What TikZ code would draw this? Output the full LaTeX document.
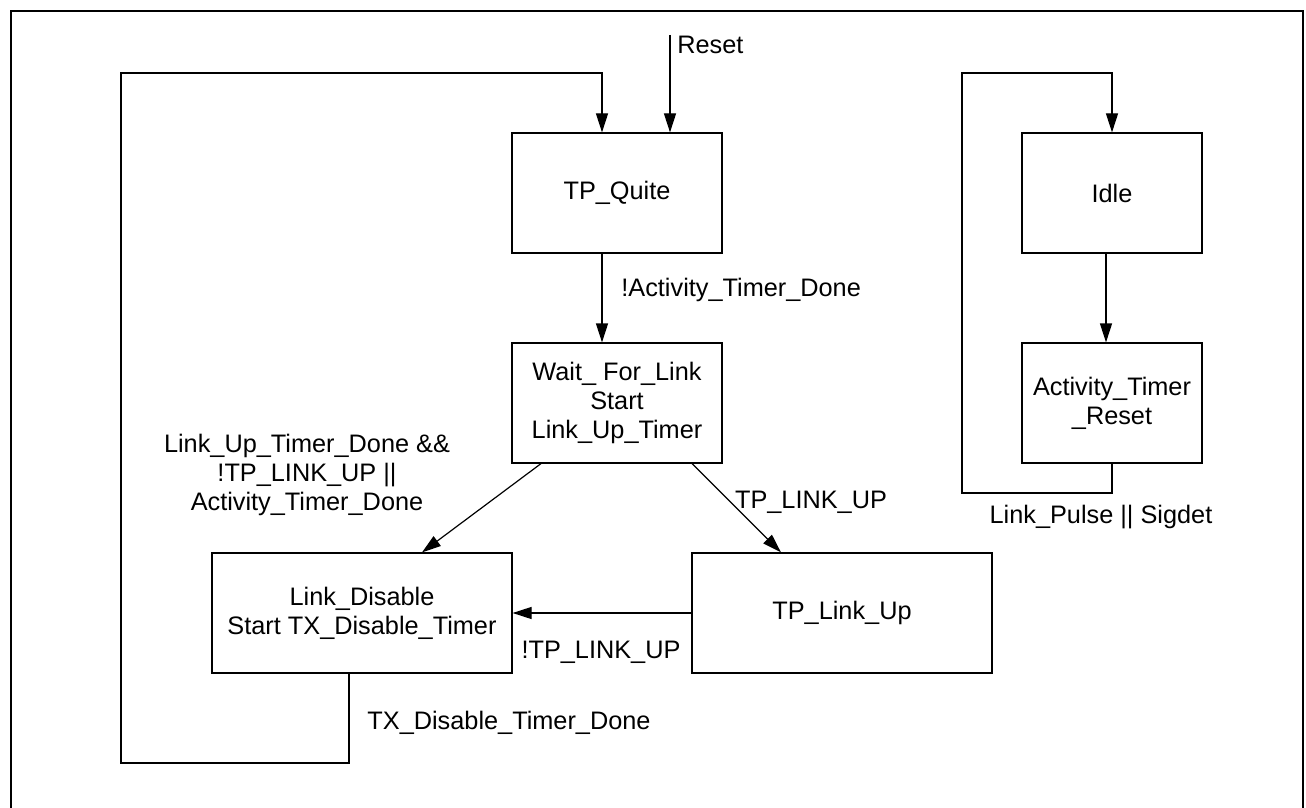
\documentclass[tikz,border=0pt]{standalone}
\usepackage{fontspec}
\setmainfont{Liberation Sans}
\usetikzlibrary{arrows.meta}

\newcommand{\lbl}{\fontsize{12.65}{14.6}\selectfont}

\begin{document}
\begin{tikzpicture}[x = 0.5pt, y = -0.5pt,
	estado/.style = {draw, black, line width = 0.6pt, inner sep = 0pt, align = center, font = \lbl},
	seta/.style = {black, line width = 0.6pt, -{Triangle[length = 9.5pt, width = 6pt]}},
	linha/.style = {black, line width = 0.6pt},
	rotulo/.style = {black, inner sep = 0pt, align = center, font = \lbl}]

	\useasboundingbox (0, 0) rectangle (1306, 808);

	%%% MOLDURA %%%

	\draw[black, line width = 1.1pt] (11, 808) -- (11, 11) -- (1303, 11) -- (1303, 808);

	%%% ESTADOS %%%

	\node[estado, minimum width = 105pt, minimum height = 60pt] (quite)   at ( 617, 193) {TP\_Quite};
	\node[estado, minimum width = 105pt, minimum height = 60pt] (wait)    at ( 617, 403) {Wait\_ For\_Link\\Start\\Link\_Up\_Timer};
	\node[estado, minimum width = 150pt, minimum height = 60pt] (disable) at ( 362, 613) {Link\_Disable\\Start TX\_Disable\_Timer};
	\node[estado, minimum width = 150pt, minimum height = 60pt] (linkup)  at ( 842, 613) {TP\_Link\_Up};
	\node[estado, minimum width =  90pt, minimum height = 60pt] (idle)    at (1112, 193) {Idle};
	\node[estado, minimum width =  90pt, minimum height = 60pt] (actreset) at (1112, 403) {Activity\_Timer\\\_Reset};

	%%% TRANSICOES %%%

	\coordinate (resetin) at (670, 35);
	\draw[seta] (resetin) -- ([xshift = 26.5pt]quite.north);
	\node[rotulo, anchor = west] (resetlbl) at (677, 45) {Reset};

	\draw[seta] ([xshift = -7.5pt]quite.south) -- ([xshift = -7.5pt]wait.north);
	\node[rotulo, anchor = west] (actdone) at (621, 290) {!Activity\_Timer\_Done};

	\draw[seta] ([xshift = -38pt]wait.south) -- ([xshift = 30pt]disable.north);
	\draw[seta] ([xshift = 37.5pt]wait.south) -- ([xshift = -30.5pt]linkup.north);
	\draw[seta] (linkup.west) -- (disable.east);

	\node[rotulo] (faillbl) at (307, 475) {Link\_Up\_Timer\_Done \&\&\\!TP\_LINK\_UP ||\\Activity\_Timer\_Done};
	\node[rotulo] (uplbl)   at (811, 502) {TP\_LINK\_UP};
	\node[rotulo] (downlbl) at (601, 652) {!TP\_LINK\_UP};

	\coordinate (laco1) at (121, 763);
	\coordinate (laco2) at (121, 73);
	\draw[seta] ([xshift = -6.5pt]disable.south) |- (laco1) -- (laco2) -| ([xshift = -7.5pt]quite.north);
	\node[rotulo] (txdone) at (509, 723) {TX\_Disable\_Timer\_Done};

	\draw[seta] ([xshift = -3pt]idle.south) -- ([xshift = -3pt]actreset.north);

	\coordinate (laco3) at (962, 493);
	\coordinate (laco4) at (962, 73);
	\draw[seta] (actreset.south) |- (laco3) -- (laco4) -| (idle.north);
	\node[rotulo] (pulselbl) at (1101, 517) {Link\_Pulse || Sigdet};

\end{tikzpicture}
\end{document}
